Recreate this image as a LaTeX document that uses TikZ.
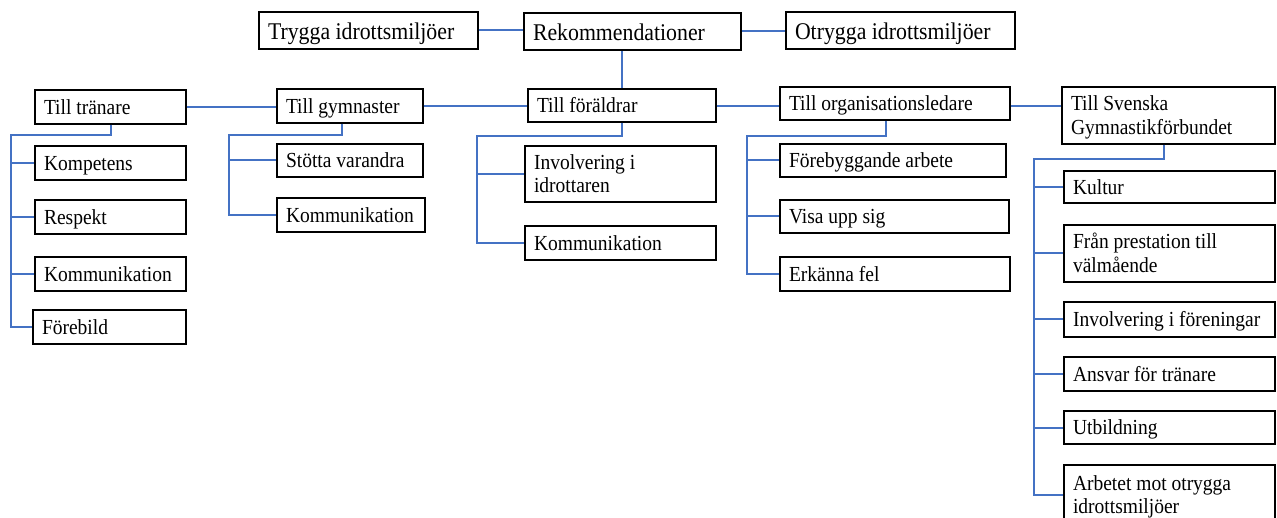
\documentclass[tikz,border=0pt]{standalone}
\usepackage{graphicx}
\usepackage{fontspec}
\setmainfont{Liberation Serif}
\definecolor{linkblue}{HTML}{4472C4}
\def\bxdrop{2.4}
\tikzset{
  textdrop/.store in=\bxdrop,
  box/.style={draw=black, line width=1.3pt, rectangle, inner xsep=9pt, inner ysep=0pt,
    font=\fontsize{19.5}{21}\selectfont, textdrop=2.4},
  bigbox/.style={font=\fontsize{21.8}{24}\selectfont, textdrop=3.6},
  conn/.style={draw=linkblue, line width=2pt},
}
\newcommand\bx[7][]{%
  \pgfmathsetmacro\bxw{#5-#3}\pgfmathsetmacro\bxh{#6-#4}\pgfmathsetmacro\bxt{#5-#3-18}%
  \node[box, minimum width=\bxw pt, minimum height=\bxh pt, #1] (#2) at ({(#3+#5)/2},{(#4+#6)/2})
    {\raisebox{-\bxdrop pt}[\height][\depth]{\scalebox{1}[1.1]{\parbox{\bxt pt}{\raggedright\strut #7\strut}}}};}
\begin{document}
\begin{tikzpicture}[x=1pt,y=-1pt]
\useasboundingbox (0,0) rectangle (1277,518);
% top row
\bx[bigbox]{tryg}{259}{12}{478}{49}{Trygga idrottsmiljöer}
\bx[bigbox]{rek}{524}{13}{741}{50}{Rekommendationer}
\bx[bigbox]{otr}{786}{12}{1015}{49}{Otrygga idrottsmiljöer}
% second row
\bx{tra}{35}{90}{186}{124}{Till tränare}
\bx{gym}{277}{89}{423}{123}{Till gymnaster}
\bx{for}{528}{89}{716}{122}{Till föräldrar}
\bx{org}{780}{87}{1010}{120}{Till organisationsledare}
\bx{sgf}{1062}{87}{1275}{144}{Till Svenska\\Gymnastikförbundet}
% children of tränare
\bx{kom}{35}{146}{186}{180}{Kompetens}
\bx{res}{35}{200}{186}{234}{Respekt}
\bx{kmt}{35}{257}{186}{291}{Kommunikation}
\bx{fbd}{33}{310}{186}{344}{Förebild}
% children of gymnaster
\bx{sto}{277}{144}{423}{177}{Stötta varandra}
\bx{kmg}{277}{198}{425}{232}{Kommunikation}
% children of föräldrar
\bx{inv}{525}{146}{716}{202}{Involvering i\\idrottaren}
\bx{kmf}{525}{226}{716}{260}{Kommunikation}
% children of organisationsledare
\bx{feb}{780}{144}{1006}{177}{Förebyggande arbete}
\bx{vis}{780}{200}{1009}{233}{Visa upp sig}
\bx{erk}{780}{257}{1010}{291}{Erkänna fel}
% children of SGF
\bx{kul}{1064}{171}{1275}{203}{Kultur}
\bx{fra}{1064}{225}{1275}{282}{Från prestation till\\välmående}
\bx{ivf}{1064}{302}{1275}{337}{Involvering i föreningar}
\bx{ans}{1064}{357}{1275}{391}{Ansvar för tränare}
\bx{utb}{1064}{411}{1275}{444}{Utbildning}
\bx{arb}{1064}{465}{1275}{525}{Arbetet mot otrygga\\idrottsmiljöer}

% top connectors
\draw[conn] (tryg.east) -- (tryg.east -| rek.west);
\draw[conn] (rek.east) -- (rek.east -| otr.west);
\draw[conn] (for.north) -- (for.north |- rek.south);
% second row connectors
\draw[conn] (tra.east) -- (tra.east -| gym.west);
\draw[conn] (gym.east) -- (gym.east -| for.west);
\draw[conn] ([yshift=-1pt]for.east) -- ([yshift=-1pt]for.east -| org.west);
\draw[conn] ([yshift=-3pt]org.east) -- ([yshift=-3pt]org.east -| sgf.west);

% tränare tree
\coordinate (ta) at (11,135);
\draw[conn] (tra.south) |- (ta) |- (fbd.west);
\foreach \c in {kom,res,kmt} \draw[conn] (ta |- \c.west) -- (\c.west);
% gymnaster tree
\coordinate (ga) at (229,135);
\draw[conn] ([xshift=-8pt]gym.south) |- (ga) |- (kmg.west);
\draw[conn] (ga |- sto.west) -- (sto.west);
% föräldrar tree
\coordinate (fa) at (477,136);
\draw[conn] (for.south) |- (fa) |- (kmf.west);
\draw[conn] (fa |- inv.west) -- (inv.west);
% organisationsledare tree
\coordinate (oa) at (747,136);
\draw[conn] ([xshift=-9pt]org.south) |- (oa) |- (erk.west);
\foreach \c in {feb,vis} \draw[conn] (oa |- \c.west) -- (\c.west);
% SGF tree
\coordinate (sa) at (1034,159);
\draw[conn] ([xshift=-5pt]sgf.south) |- (sa) |- (arb.west);
\foreach \c in {kul,fra,ivf,ans,utb} \draw[conn] (sa |- \c.west) -- (\c.west);
\end{tikzpicture}
\end{document}
